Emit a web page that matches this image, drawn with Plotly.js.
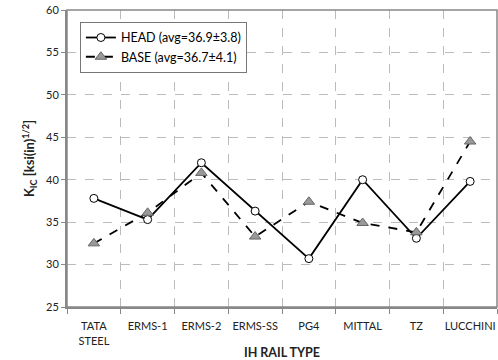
<!DOCTYPE html>
<html><head><meta charset="utf-8">
<script src="https://cdn.plot.ly/plotly-3.0.1.min.js"></script>
<style>body{margin:0;padding:0;background:#fff}#c{width:498px;height:360px}</style>
</head><body><div id="c"></div>
<script>
const categories = ["TATA<br>STEEL","ERMS-1","ERMS-2","ERMS-SS","PG4","MITTAL","TZ","LUCCHINI"];
const headValues = [37.8, 35.3, 42.0, 36.3, 30.7, 40.0, 33.1, 39.8];
const baseValues = [32.5, 36.1, 40.8, 33.3, 37.4, 34.9, 33.8, 44.5];
const seriesNames = ["HEAD (avg=36.9±3.8)", "BASE (avg=36.7±4.1)"];
const yTicks = [25, 30, 35, 40, 45, 50, 55, 60];

const font = "Lato, 'Open Sans', sans-serif";
const traces = [
  {x: categories, y: headValues, name: seriesNames[0], type: "scatter", mode: "lines+markers",
   line: {color: "#000", width: 1.8},
   marker: {symbol: "circle", size: 8, color: "#fff", line: {color: "#000", width: 1}}},
  {x: categories, y: baseValues, name: seriesNames[1], type: "scatter", mode: "lines+markers",
   line: {color: "#000", width: 1.8, dash: "dash"},
   marker: {symbol: "triangle-up", size: 10, color: "#999", line: {color: "#666", width: 1}}}
];
const layout = {
  width: 498, height: 360,
  margin: {l: 67, r: 1, t: 10, b: 53},
  paper_bgcolor: "#fff", plot_bgcolor: "#fff",
  font: {family: font, size: 11, color: "#222"},
  showlegend: true,
  legend: {x: 0.03, y: 0.96, xanchor: "left", yanchor: "top",
    bordercolor: "#777", borderwidth: 1, bgcolor: "#fff",
    font: {family: font, size: 12.5, color: "#000"}, itemwidth: 30},
  xaxis: {type: "category", range: [-0.5, 7.5], tickson: "boundaries", tickangle: 0,
    showgrid: true, gridcolor: "#bbb", griddash: "dash", gridwidth: 1,
    showline: true, linecolor: "#888", linewidth: 2, mirror: false,
    ticks: "outside", ticklen: 5, tickcolor: "#888", ticklabelstandoff: 8,
    tickfont: {family: font, size: 11, color: "#222"},
    title: {text: "<b>IH RAIL TYPE</b>", font: {family: font, size: 12.5, color: "#222"}, standoff: 6}},
  yaxis: {range: [25, 60], tickvals: yTicks,
    showgrid: true, gridcolor: "#bbb", griddash: "dash", gridwidth: 1,
    showline: true, linecolor: "#888", linewidth: 2,
    ticks: "outside", ticklen: 4, tickcolor: "#888", zeroline: false,
    tickfont: {family: font, size: 11, color: "#222"},
    title: {text: "<b>K<sub>IC</sub> [ksi(in)<sup>1/2</sup>]</b>", font: {family: font, size: 13, color: "#222"}, standoff: 8}},
  shapes: [{type: "rect", xref: "paper", yref: "paper", x0: 0, x1: 1, y0: 0, y1: 1,
    line: {color: "#888", width: 1.5}, fillcolor: "rgba(0,0,0,0)"}]
};
Plotly.newPlot("c", traces, layout, {displayModeBar: false, staticPlot: true});
</script></body></html>
